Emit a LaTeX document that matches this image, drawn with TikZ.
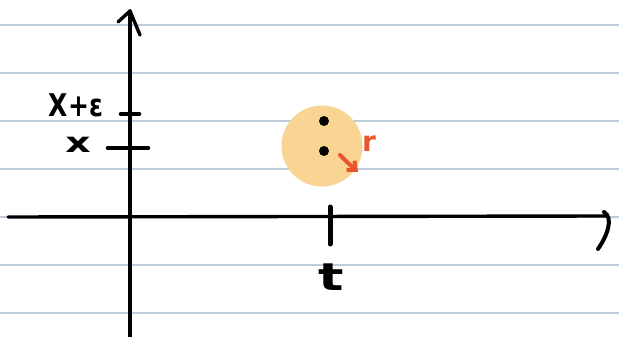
\documentclass[tikz,border=0pt]{standalone}
\usepackage{fontspec}
\newfontfamily\hand{DejaVu Sans}[BoldFont={DejaVu Sans Bold}]
\usetikzlibrary{arrows.meta}
\definecolor{ruled}{RGB}{190,203,219}
\definecolor{blob}{RGB}{249,212,146}
\definecolor{pen}{RGB}{234,86,44}

\begin{document}
\begin{tikzpicture}[x=1pt, y=-1pt,
	axis/.style={line width=3.4pt, line cap=round, line join=round},
	tickmark/.style={line width=4.6pt, line cap=round},
	lbl/.style={font=\hand\bfseries\fontsize{25}{27}\selectfont, inner sep=0pt},
	dot/.style={circle, fill=black, inner sep=0pt, minimum size=10pt}]
	\useasboundingbox[fill=white] (0,0) rectangle (619,337);
	% ruled paper
	\foreach \y in {25,73,...,313}
		\draw[ruled, line width=1.6pt] (0,\y) -- (619,\y);
	% axes
	\coordinate (xs) at (8,217);
	\coordinate (xe) at (606,216);
	\coordinate (ys) at (130,337);
	\coordinate (ye) at (130,11);
	\draw[axis] (xs) -- (xe);
	\draw[axis, line width=4pt] (604,212) .. controls (614,218) and (607,236) .. (598,249);
	\draw[axis] (ys) -- (ye);
	\draw[axis] (118,22) -- (ye) -- (140,35);
	% ticks
	\draw[tickmark] (121,114) -- (139,114);
	\draw[tickmark] (108,148) -- (148,148);
	\draw[tickmark, line width=5pt] (330,207) -- (330,244);
	\node[lbl, yscale=1.25] (xeps) at (76,105) {X+ε};
	\node[lbl, xscale=1.4, font=\hand\bfseries\fontsize{28}{30}\selectfont] (xlab) at (78,145) {x};
	\node[lbl, xscale=1.4, font=\hand\bfseries\fontsize{38}{40}\selectfont] (tlab) at (331,277) {t};
	% the ball
	\node[circle, fill=blob, minimum size=81pt] (ball) at (322,146) {};
	\node[dot] (top) at (324,121) {};
	\node[dot] (low) at (324,151) {};
	\coordinate (rs) at (340,155);
	\coordinate (re) at (358,172);
	\draw[pen, line width=4pt, line cap=round, -{Straight Barb[length=7pt, width=12pt]}] (rs) .. controls (348,163) .. (re);
	\node[lbl, text=pen, font=\hand\bfseries\fontsize{28}{30}\selectfont] (rlab) at (369,144) {r};
\end{tikzpicture}
\end{document}
